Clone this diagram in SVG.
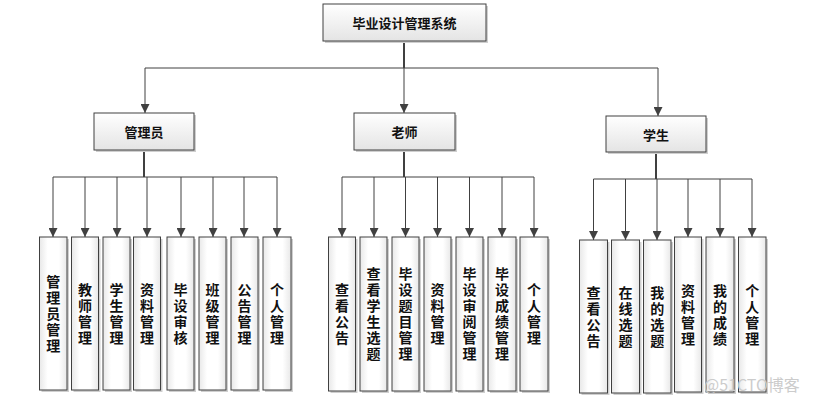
<svg xmlns="http://www.w3.org/2000/svg" width="814" height="405" viewBox="0 0 814 405">
<defs>
  <linearGradient id="g" x1="0" y1="0" x2="0" y2="1">
    <stop offset="0" stop-color="#ffffff"/>
    <stop offset="1" stop-color="#e4e4e4"/>
  </linearGradient>
  <linearGradient id="gl" x1="0" y1="0" x2="1" y2="0">
    <stop offset="0" stop-color="#e8e8e8"/>
    <stop offset="0.3" stop-color="#ffffff"/>
    <stop offset="0.7" stop-color="#ffffff"/>
    <stop offset="1" stop-color="#e8e8e8"/>
  </linearGradient>
  <marker id="arr" viewBox="0 0 10 10" refX="10" refY="5" markerWidth="9" markerHeight="9" markerUnits="userSpaceOnUse" orient="auto">
    <path d="M0,0 L10,5 L0,10 z" fill="#404040"/>
  </marker>
  <style>
    .box{fill:url(#g);stroke:#404040;stroke-width:1}
    .leaf{fill:url(#gl);stroke:#404040;stroke-width:1}
    .sh{fill:#cfcfcf}
    .t{font-family:"Noto Sans CJK SC",sans-serif;font-weight:bold;font-size:13px;fill:#111;text-anchor:middle;dominant-baseline:central}
    .lt{font-family:"Noto Sans CJK SC",sans-serif;font-weight:bold;font-size:14px;fill:#111;text-anchor:middle;writing-mode:vertical-rl;letter-spacing:2px}
    .c{fill:none;stroke:#404040;stroke-width:1}
    .cs{fill:none;stroke:#404040;stroke-width:2}
    .a{fill:none;stroke:#404040;stroke-width:1;marker-end:url(#arr)}
    .wm{font-family:"Noto Sans CJK SC",sans-serif;font-size:16px;fill:#cccccc}
  </style>
</defs>
<rect width="814" height="405" fill="#ffffff"/>

<g id="connectors">
  <path class="cs" d="M404,41 V68"/>
  <path class="c" d="M145,68 H658"/>
  <path class="a" d="M145,68 V113"/>
  <path class="a" d="M404,68 V113"/>
  <path class="a" d="M658,68 V116"/>

  <path class="cs" d="M144,150 V177"/>
  <path class="c" d="M53,177 H277"/>
  <path class="a" d="M53,177 V237"/>
  <path class="a" d="M85,177 V237"/>
  <path class="a" d="M117,177 V237"/>
  <path class="a" d="M147,177 V237"/>
  <path class="a" d="M181,177 V237"/>
  <path class="a" d="M213,177 V237"/>
  <path class="a" d="M244,177 V237"/>
  <path class="a" d="M277,177 V237"/>

  <path class="cs" d="M404,150 V177"/>
  <path class="c" d="M342,177 H534"/>
  <path class="a" d="M342,177 V237"/>
  <path class="a" d="M374,177 V237"/>
  <path class="a" d="M405.5,177 V237"/>
  <path class="a" d="M437.5,177 V237"/>
  <path class="a" d="M469.5,177 V237"/>
  <path class="a" d="M502,177 V237"/>
  <path class="a" d="M534,177 V237"/>

  <path class="cs" d="M656,152 V179"/>
  <path class="c" d="M593.5,179 H752"/>
  <path class="a" d="M593.5,179 V240"/>
  <path class="a" d="M625.5,179 V240"/>
  <path class="a" d="M657,179 V240"/>
  <path class="a" d="M688,179 V237"/>
  <path class="a" d="M720,179 V237"/>
  <path class="a" d="M752,179 V237"/>
</g>

<g id="root">
  <rect class="sh" x="325" y="6" width="163" height="37"/>
  <rect class="box" x="323" y="4" width="163" height="37"/>
  <text class="t" x="404.5" y="22.5">毕业设计管理系统</text>
</g>

<g id="admin">
  <rect class="sh" x="96" y="115" width="100" height="37"/>
  <rect class="box" x="94" y="113" width="100" height="37"/>
  <text class="t" x="144" y="131.5">管理员</text>
</g>
<g id="teacher">
  <rect class="sh" x="356" y="115" width="101" height="37"/>
  <rect class="box" x="354" y="113" width="101" height="37"/>
  <text class="t" x="404.5" y="131.5">老师</text>
</g>
<g id="student">
  <rect class="sh" x="608" y="118" width="100" height="36"/>
  <rect class="box" x="606" y="116" width="100" height="36"/>
  <text class="t" x="656" y="134">学生</text>
</g>

<!-- admin leaves -->
<g id="a1"><rect class="sh" x="41.5" y="239" width="27.5" height="153"/><rect class="leaf" x="39.5" y="237" width="27.5" height="153"/>
<text class="lt" x="53.25" y="314.5">管理员管理</text></g>
<g id="a2"><rect class="sh" x="73.5" y="239" width="27" height="153"/><rect class="leaf" x="71.5" y="237" width="27" height="153"/>
<text class="lt" x="85" y="314.5">教师管理</text></g>
<g id="a3"><rect class="sh" x="105" y="239" width="27" height="153"/><rect class="leaf" x="103" y="237" width="27" height="153"/>
<text class="lt" x="116.5" y="314.5">学生管理</text></g>
<g id="a4"><rect class="sh" x="135.5" y="239" width="27" height="153"/><rect class="leaf" x="133.5" y="237" width="27" height="153"/>
<text class="lt" x="147" y="314.5">资料管理</text></g>
<g id="a5"><rect class="sh" x="169" y="239" width="27" height="153"/><rect class="leaf" x="167" y="237" width="27" height="153"/>
<text class="lt" x="180.5" y="314.5">毕设审核</text></g>
<g id="a6"><rect class="sh" x="201" y="239" width="27" height="153"/><rect class="leaf" x="199" y="237" width="27" height="153"/>
<text class="lt" x="212.5" y="314.5">班级管理</text></g>
<g id="a7"><rect class="sh" x="233" y="239" width="27" height="153"/><rect class="leaf" x="231" y="237" width="27" height="153"/>
<text class="lt" x="244.5" y="314.5">公告管理</text></g>
<g id="a8"><rect class="sh" x="265" y="239" width="28" height="153"/><rect class="leaf" x="263" y="237" width="28" height="153"/>
<text class="lt" x="277" y="314.5">个人管理</text></g>

<!-- teacher leaves -->
<g id="t1"><rect class="sh" x="330.5" y="239" width="27" height="154"/><rect class="leaf" x="328.5" y="237" width="27" height="154"/>
<text class="lt" x="342" y="315">查看公告</text></g>
<g id="t2"><rect class="sh" x="362" y="239" width="27" height="154"/><rect class="leaf" x="360" y="237" width="27" height="154"/>
<text class="lt" x="373.5" y="315">查看学生选题</text></g>
<g id="t3"><rect class="sh" x="394" y="239" width="27" height="154"/><rect class="leaf" x="392" y="237" width="27" height="154"/>
<text class="lt" x="405.5" y="315">毕设题目管理</text></g>
<g id="t4"><rect class="sh" x="426" y="239" width="27" height="154"/><rect class="leaf" x="424" y="237" width="27" height="154"/>
<text class="lt" x="437.5" y="315">资料管理</text></g>
<g id="t5"><rect class="sh" x="458" y="239" width="27" height="154"/><rect class="leaf" x="456" y="237" width="27" height="154"/>
<text class="lt" x="469.5" y="315">毕设审阅管理</text></g>
<g id="t6"><rect class="sh" x="490" y="239" width="28" height="154"/><rect class="leaf" x="488" y="237" width="28" height="154"/>
<text class="lt" x="502" y="315">毕设成绩管理</text></g>
<g id="t7"><rect class="sh" x="522" y="239" width="28" height="154"/><rect class="leaf" x="520" y="237" width="28" height="154"/>
<text class="lt" x="534" y="315">个人管理</text></g>

<!-- student leaves -->
<g id="s1"><rect class="sh" x="581.5" y="242" width="28" height="153"/><rect class="leaf" x="579.5" y="240" width="28" height="153"/>
<text class="lt" x="593.5" y="317.5">查看公告</text></g>
<g id="s2"><rect class="sh" x="613.5" y="242" width="28" height="153"/><rect class="leaf" x="611.5" y="240" width="28" height="153"/>
<text class="lt" x="625.5" y="317.5">在线选题</text></g>
<g id="s3"><rect class="sh" x="645.5" y="242" width="27.5" height="153"/><rect class="leaf" x="643.5" y="240" width="27.5" height="153"/>
<text class="lt" x="657.25" y="317.5">我的选题</text></g>
<g id="s4"><rect class="sh" x="676.5" y="239" width="27" height="155"/><rect class="leaf" x="674.5" y="237" width="27" height="155"/>
<text class="lt" x="688" y="315.5">资料管理</text></g>
<g id="s5"><rect class="sh" x="708" y="239" width="28" height="155"/><rect class="leaf" x="706" y="237" width="28" height="155"/>
<text class="lt" x="720" y="315.5">我的成绩</text></g>
<g id="s6"><rect class="sh" x="740.5" y="239" width="27.5" height="155"/><rect class="leaf" x="738.5" y="237" width="27.5" height="155"/>
<text class="lt" x="752.25" y="315.5">个人管理</text></g>

<text class="wm" x="704" y="391">@51CTO博客</text>
</svg>
